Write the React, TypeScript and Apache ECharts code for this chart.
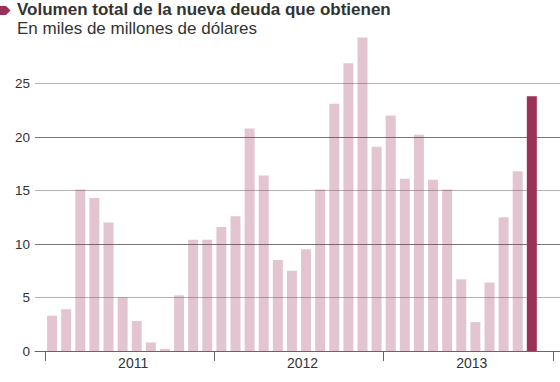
import React, { useEffect, useRef } from 'react';
import * as echarts from 'echarts';

const titleText = 'Volumen total de la nueva deuda que obtienen';
const subtitleText = 'En miles de millones de dólares';

const years = ['2011', '2012', '2013'];
const monthNames = ['ene', 'feb', 'mar', 'abr', 'may', 'jun', 'jul', 'ago', 'sep', 'oct', 'nov', 'dic'];

// Monthly volume (miles de millones de dólares), Jan 2011 – Nov 2013
const values = [
  3.3, 3.9, 15.1, 14.3, 12.0, 5.0, 2.8, 0.8, 0.2, 5.2, 10.4, 10.4,
  11.6, 12.6, 20.8, 16.4, 8.5, 7.5, 9.5, 15.1, 23.1, 26.9, 29.3, 19.1,
  22.0, 16.1, 20.2, 16.0, 15.1, 6.7, 2.7, 6.4, 12.5, 16.8, 23.8,
];
const highlightIndex = 34;

const yMin = 0;
const yMax = 30;
const yInterval = 5;
const yLabelMax = 25;

const FONT = '"Liberation Sans", Arial, Helvetica, sans-serif';
const DARK = '#9b3059';
const LIGHT = 'rgba(155,48,89,0.28)';

export default function App() {
  const ref = useRef<HTMLDivElement>(null);
  useEffect(() => {
    if (!ref.current) return;
    const chart = echarts.init(ref.current, undefined, { renderer: 'svg' });
    const months: string[] = [];
    years.forEach((y) => monthNames.forEach((m) => months.push(m + ' ' + y)));
    const option: any = {
      animation: false,
      textStyle: { fontFamily: FONT },
      grid: [
        { left: 35, right: 0, top: 30, bottom: 31 },
        { left: 45, right: 7, top: 30, bottom: 31 },
      ],
      xAxis: [
        {
          gridIndex: 0,
          type: 'value',
          min: 0,
          max: 1,
          axisLine: { show: true, onZero: false, lineStyle: { color: '#666', width: 1 } },
          axisTick: { show: false },
          axisLabel: { show: false },
          splitLine: { show: false },
        },
        {
          gridIndex: 1,
          type: 'category',
          data: years,
          position: 'bottom',
          axisLine: { show: false },
          axisTick: { show: true, length: 10, lineStyle: { color: '#666', width: 1 } },
          axisLabel: { color: '#333', fontSize: 14, margin: 5, fontFamily: FONT, padding: [0, 0, 0, 7] },
          splitLine: { show: false },
        },
        {
          gridIndex: 1,
          type: 'category',
          data: months,
          show: false,
        },
      ],
      yAxis: [
        {
          gridIndex: 0,
          type: 'value',
          min: yMin,
          max: yMax,
          interval: yInterval,
          axisLine: { show: false },
          axisTick: { show: false },
          axisLabel: {
            color: '#333',
            fontSize: 13.5,
            margin: 5,
            fontFamily: FONT,
            formatter: (v: number) => (v > yLabelMax ? '' : String(v)),
          },
          splitLine: {
            show: true,
            showMaxLine: false,
            lineStyle: { color: ['#777', '#b4b4b4'], width: 1 },
          },
        },
        {
          gridIndex: 1,
          type: 'value',
          min: yMin,
          max: yMax,
          interval: yInterval,
          show: false,
          splitLine: { show: false },
        },
      ],
      series: [
        {
          type: 'bar',
          xAxisIndex: 2,
          yAxisIndex: 1,
          barWidth: 10,
          data: values.map((v, i) => ({
            value: v,
            itemStyle: { color: i === highlightIndex ? DARK : LIGHT },
          })),
        },
      ],
      graphic: [
        {
          type: 'polygon',
          shape: { points: [[0, 6], [6, 6], [10.5, 10.5], [6, 15], [0, 15]] },
          style: { fill: DARK },
        },
        {
          type: 'text',
          x: 17,
          y: 1,
          style: {
            text: titleText,
            font: 'bold 17px ' + FONT,
            fill: '#333',
            verticalAlign: 'top',
          },
        },
        {
          type: 'text',
          x: 17,
          y: 20,
          style: {
            text: subtitleText,
            font: '17px ' + FONT,
            fill: '#333',
            verticalAlign: 'top',
          },
        },
      ],
    };
    chart.setOption(option);
    return () => chart.dispose();
  }, []);
  return <div ref={ref} style={{ width: 560, height: 382, position: 'absolute', left: 0, top: 0 }} />;
}
